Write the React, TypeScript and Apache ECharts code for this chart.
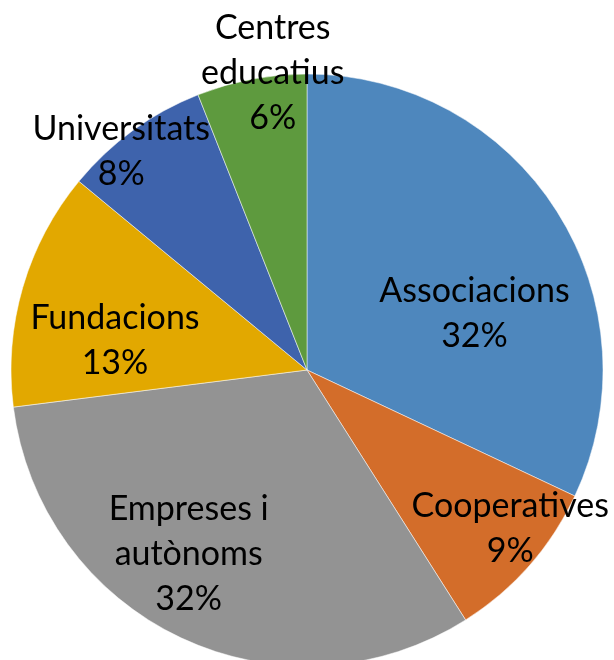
import React, { useEffect, useRef } from "react";
import * as echarts from "echarts";

const categories = ["Associacions", "Cooperatives", "Empreses i\nautònoms", "Fundacions", "Universitats", "Centres\neducatius"];
const values = [32, 9, 32, 13, 8, 6];
const colors = ["#4E87BD", "#D36D2A", "#939393", "#E2A800", "#3E63AC", "#5E9A3E"];
const labelOffsets = [
  [40, 22],
  [90, 56],
  [-54, 45],
  [-47, 10],
  [-97, -99],
  [-6, -151],
];

export default function App() {
  const ref = useRef<HTMLDivElement>(null);
  useEffect(() => {
    if (!ref.current) return;
    const chart = echarts.init(ref.current, undefined, { renderer: "svg" });
    chart.setOption({
      animation: false,
      series: [
        {
          type: "pie",
          center: [307, 370],
          radius: 296,
          startAngle: 90,
          clockwise: true,
          avoidLabelOverlap: false,
          itemStyle: { borderColor: "#ffffff", borderWidth: 0.5 },
          label: {
            show: true,
            position: "inside",
            formatter: (p: any) => `${p.name}\n${p.value}%`,
            fontFamily: "Lato",
            fontSize: 34,
            lineHeight: 45,
            color: "#000000",
            align: "center",
          },
          labelLine: { show: false },
          labelLayout: (p: any) => ({ dx: labelOffsets[p.dataIndex][0], dy: labelOffsets[p.dataIndex][1] }),
          emphasis: { disabled: true },
          data: categories.map((name, i) => ({ name, value: values[i], itemStyle: { color: colors[i] } })),
        },
      ],
    });
    return () => chart.dispose();
  }, []);
  return <div ref={ref} style={{ position: "fixed", left: 0, top: 0, width: 614, height: 660 }} />;
}
